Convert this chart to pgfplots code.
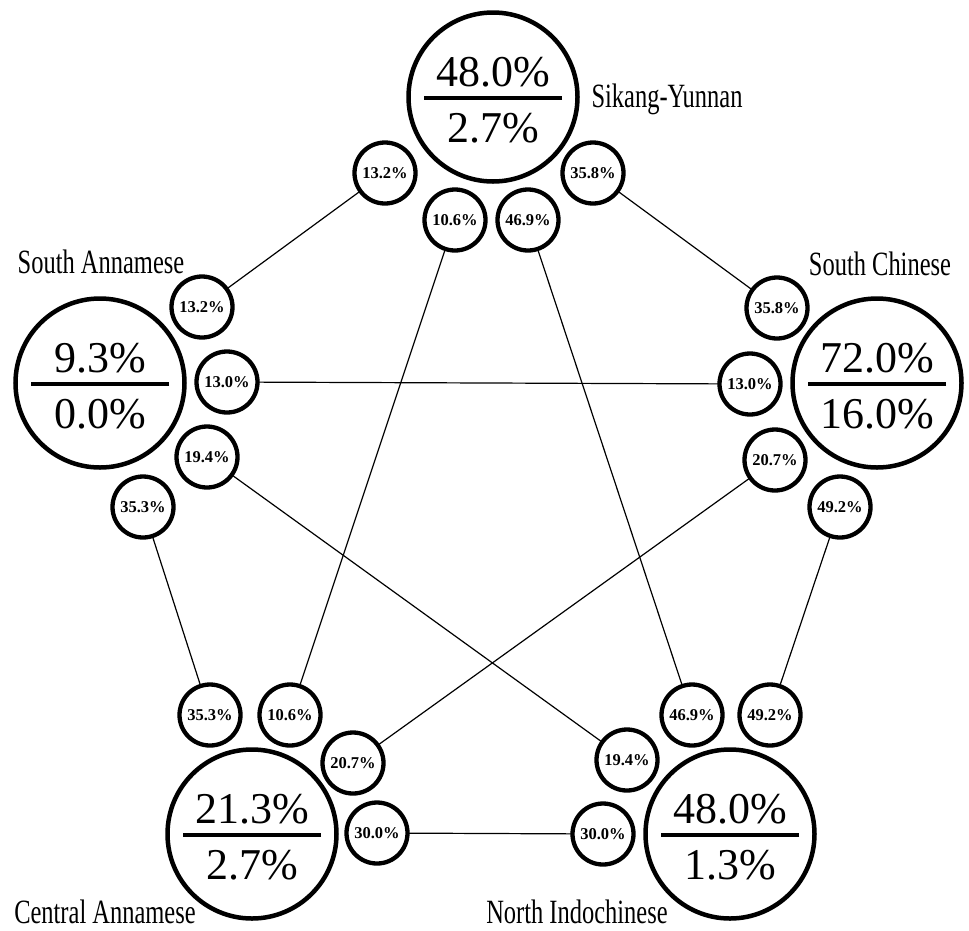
\documentclass[border=0pt]{standalone}
\usepackage{fontspec}
\setmainfont{Liberation Serif}
\newfontfamily\condfont[FakeStretch=0.72]{Liberation Serif}
\usepackage{pgfplots}
\pgfplotsset{compat=1.18}
\begin{document}
\begin{tikzpicture}
\begin{axis}[
  width=969pt, height=928pt, scale only axis,
  xmin=0, xmax=969, ymin=0, ymax=928, y dir=reverse,
  hide axis, clip=false,
]
% invisible frame
\addplot[draw=none, forget plot] coordinates {(0,0) (969,928)};
% connecting lines (small circle to small circle)
\addplot[black, line width=1.2pt] coordinates {(385,173) (202,307)};
\addplot[black, line width=1.2pt] coordinates {(455,220) (290,715)};
\addplot[black, line width=1.2pt] coordinates {(528,220) (692,715)};
\addplot[black, line width=1.2pt] coordinates {(593,173) (777,308)};
\addplot[black, line width=1.2pt] coordinates {(227,382) (750,384)};
\addplot[black, line width=1.2pt] coordinates {(207,457) (627,760)};
\addplot[black, line width=1.2pt] coordinates {(143,507) (210,715)};
\addplot[black, line width=1.2pt] coordinates {(775,460) (353,763)};
\addplot[black, line width=1.2pt] coordinates {(840,507) (770,715)};
\addplot[black, line width=1.2pt] coordinates {(377,833) (603,834)};
% big circles
\addplot[only marks, mark=*, mark size=84.5pt,
  mark options={draw=black, fill=white, line width=4.5pt}]
  coordinates {(493,97) (100,383) (877,383) (252,834) (730,834)};
% small circles
\addplot[only marks, mark=*, mark size=30.5pt,
  mark options={draw=black, fill=white, line width=4.3pt}]
  coordinates {
  (385,173) (455,220) (528,220) (593,173)
  (202,307) (227,382) (207,457) (143,507)
  (777,308) (750,384) (775,460) (840,507)
  (210,715) (290,715) (353,763) (377,833)
  (692,715) (770,715) (627,760) (603,834)};
% fraction bars (horizontal bar marks, half-length 69)
\addplot[only marks, mark=-, mark size=69pt,
  mark options={draw=black, line width=3.5pt}]
  coordinates {(493,98) (100,384) (877,384) (252,835) (730,835)};
% big numbers
\addplot[only marks, mark=none, point meta=explicit symbolic,
  nodes near coords, nodes near coords align=center,
  every node near coord/.append style={black, anchor=center, inner sep=0pt,
    font=\fontsize{44}{50}\selectfont, text height=30pt, text depth=0pt}]
  coordinates {
  (493,71) [48.0\%] (493,127) [2.7\%]
  (100,357) [9.3\%] (100,413) [0.0\%]
  (877,357) [72.0\%] (877,413) [16.0\%]
  (252,808) [21.3\%] (252,864) [2.7\%]
  (730,808) [48.0\%] (730,864) [1.3\%]};
% small numbers
\addplot[only marks, mark=none, point meta=explicit symbolic,
  nodes near coords, nodes near coords align=center,
  every node near coord/.append style={black, anchor=center, inner sep=0pt,
    font=\bfseries\fontsize{16.5}{18}\selectfont, text height=11.2pt, text depth=0pt}]
  coordinates {
  (385,173) [13.2\%] (455,220) [10.6\%] (528,220) [46.9\%] (593,173) [35.8\%]
  (202,307) [13.2\%] (227,382) [13.0\%] (207,457) [19.4\%] (143,507) [35.3\%]
  (777,308) [35.8\%] (750,384) [13.0\%] (775,460) [20.7\%] (840,507) [49.2\%]
  (210,715) [35.3\%] (290,715) [10.6\%] (353,763) [20.7\%] (377,833) [30.0\%]
  (692,715) [46.9\%] (770,715) [49.2\%] (627,760) [19.4\%] (603,834) [30.0\%]};
% group labels
\addplot[only marks, mark=none, point meta=explicit symbolic,
  nodes near coords, nodes near coords align=center,
  every node near coord/.append style={black, anchor=center, inner sep=0pt,
    font=\condfont\fontsize{34}{40}\selectfont, text height=24pt, text depth=7pt}]
  coordinates {
  (667,98.5) [Sikang-Yunnan]
  (101,264.5) [South Annamese]
  (880,266.5) [South Chinese]
  (105,914.5) [Central Annamese]
  (577,914.5) [North Indochinese]};
\end{axis}
\end{tikzpicture}
\end{document}
